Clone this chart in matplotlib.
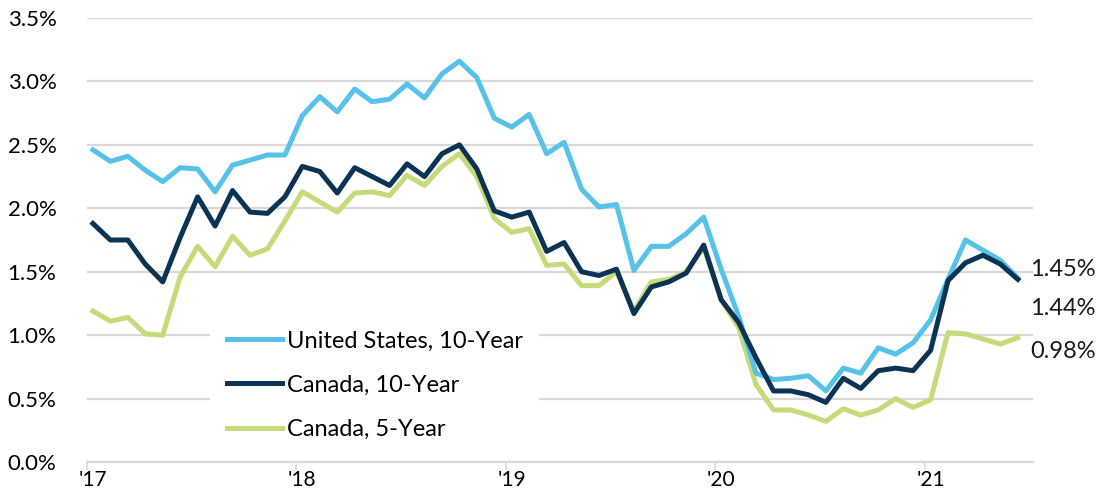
import numpy as np
import matplotlib.pyplot as plt

plt.rcParams['font.family'] = ['Lato', 'DejaVu Sans']

# Monthly yields, Jan 2017 - Jun 2021 (%)
us_10y = [2.46, 2.37, 2.41, 2.30, 2.21, 2.32, 2.31, 2.13, 2.34, 2.38, 2.42, 2.42,
          2.73, 2.88, 2.76, 2.94, 2.84, 2.86, 2.98, 2.87, 3.06, 3.16, 3.03, 2.71,
          2.64, 2.74, 2.43, 2.52, 2.15, 2.01, 2.03, 1.51, 1.70, 1.70, 1.80, 1.93,
          1.52, 1.15, 0.70, 0.65, 0.66, 0.68, 0.56, 0.74, 0.70, 0.90, 0.85, 0.94,
          1.12, 1.44, 1.75, 1.67, 1.59, 1.45]
ca_10y = [1.88, 1.75, 1.75, 1.56, 1.42, 1.77, 2.09, 1.86, 2.14, 1.97, 1.96, 2.09,
          2.33, 2.29, 2.12, 2.32, 2.25, 2.18, 2.35, 2.25, 2.43, 2.50, 2.31, 1.98,
          1.93, 1.97, 1.66, 1.73, 1.50, 1.47, 1.52, 1.17, 1.38, 1.42, 1.49, 1.71,
          1.28, 1.10, 0.82, 0.56, 0.56, 0.53, 0.47, 0.66, 0.58, 0.72, 0.74, 0.72,
          0.88, 1.43, 1.57, 1.63, 1.56, 1.44]
ca_5y = [1.19, 1.11, 1.14, 1.01, 1.00, 1.46, 1.70, 1.54, 1.78, 1.63, 1.68, 1.90,
         2.13, 2.05, 1.97, 2.12, 2.13, 2.10, 2.26, 2.18, 2.33, 2.43, 2.25, 1.92,
         1.81, 1.84, 1.55, 1.56, 1.39, 1.39, 1.50, 1.19, 1.42, 1.44, 1.50, 1.69,
         1.28, 1.06, 0.61, 0.41, 0.41, 0.37, 0.32, 0.42, 0.37, 0.41, 0.50, 0.43,
         0.49, 1.02, 1.01, 0.97, 0.93, 0.98]
year_labels = ["'17", "'18", "'19", "'20", "'21"]
end_labels = ['1.45%', '1.44%', '0.98%']

x = np.arange(len(us_10y))

fig = plt.figure(figsize=(10.99, 5.03), dpi=100)
ax = fig.add_axes([87 / 1099, 1 - 462 / 503, (1033 - 87) / 1099, (462 - 18) / 503])

grid_c = '#d9d9d9'
c_us, c_ca10, c_ca5 = '#56c1e9', '#0b3454', '#c5da78'

ax.plot(x, us_10y, color=c_us, lw=3.6, label='United States, 10-Year', zorder=4)
ax.plot(x, ca_5y, color=c_ca5, lw=3.6, label='Canada, 5-Year', zorder=3)
ax.plot(x, ca_10y, color=c_ca10, lw=3.6, label='Canada, 10-Year', zorder=5)

ax.set_ylim(0, 3.5)
ax.set_xlim(-0.34, 53.87)
ax.set_yticks(np.arange(0, 3.51, 0.5))
ax.set_yticklabels([f'{v:.1f}%' for v in np.arange(0, 3.51, 0.5)])
ax.yaxis.grid(True, color=grid_c, lw=1.6)
ax.set_axisbelow(True)

# year labels at January points, tick marks at year boundaries
ax.set_xticks(np.arange(0, 54, 12))
ax.set_xticklabels(year_labels)
ax.set_xticks(np.arange(0, 54, 12) - 0.34, minor=True)
ax.tick_params(axis='x', which='major', length=0, pad=6, labelsize=15)
ax.tick_params(axis='x', which='minor', length=6, width=1.2, color=grid_c)
ax.tick_params(axis='y', length=0, pad=22, labelsize=16)

for s in ['top', 'right', 'left']:
    ax.spines[s].set_visible(False)
ax.spines['bottom'].set_color(grid_c)
ax.spines['bottom'].set_linewidth(1.6)

# end-of-series value labels
last = len(x) - 1
offsets = [(12, 9), (12, -29), (12, -14)]
for val, txt, off in zip([us_10y[-1], ca_10y[-1], ca_5y[-1]], end_labels, offsets):
    ax.annotate(txt, xy=(last, val), xytext=off, textcoords='offset pixels',
                ha='left', va='center', fontsize=17, color='#1a1a1a', annotation_clip=False)

handles, labels = ax.get_legend_handles_labels()
order = [0, 2, 1]
leg = ax.legend([handles[i] for i in order], [labels[i] for i in order],
                loc='upper left', bbox_to_anchor=(210 / 1099, 1 - 314 / 503),
                bbox_transform=fig.transFigure, borderaxespad=0, borderpad=0.7,
                fontsize=17, frameon=True, facecolor='white', edgecolor='none',
                framealpha=1, fancybox=False, handlelength=2.35, handletextpad=0.2,
                labelspacing=0.98)
leg.set_zorder(2)

plt.savefig('out.png', dpi=100)
